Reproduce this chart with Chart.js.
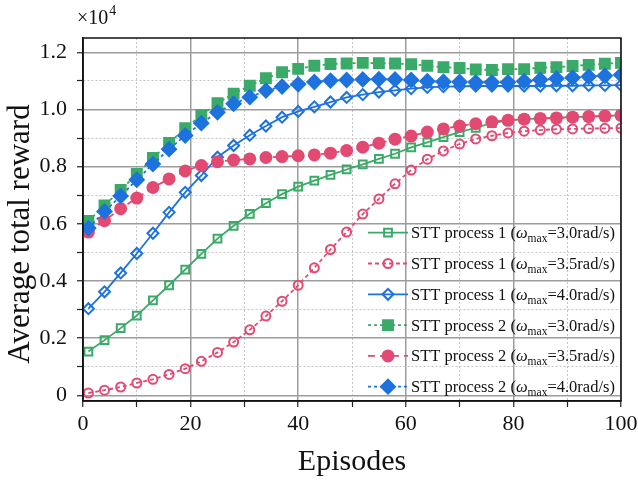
<!DOCTYPE html>
<html>
<head>
<meta charset="utf-8">
<script src="https://cdn.jsdelivr.net/npm/chart.js@4.4.1/dist/chart.umd.min.js"></script>
<style>
  html, body { margin: 0; padding: 0; background: #fff; }
</style>
</head>
<body>
<canvas id="lineChart" width="638" height="487"></canvas>
<script>
// episodes sampled every 3
var episodes = [1, 4, 7, 10, 13, 16, 19, 22, 25, 28, 31, 34, 37, 40, 43, 46, 49, 52, 55, 58, 61, 64, 67, 70, 73, 76, 79, 82, 85, 88, 91, 94, 97, 100];

// average total reward, in units of 10^4
var stt1_w30 = [0.153, 0.193, 0.235, 0.279, 0.332, 0.385, 0.440, 0.495, 0.548, 0.593, 0.635, 0.672, 0.704, 0.730, 0.751, 0.771, 0.790, 0.808, 0.827, 0.845, 0.867, 0.885, 0.903, 0.921, 0.936, 0.952, 0.962, 0.966, 0.969, 0.971, 0.973, 0.975, 0.977, 0.980];
var stt1_w35 = [0.008, 0.018, 0.029, 0.043, 0.056, 0.073, 0.093, 0.119, 0.150, 0.186, 0.229, 0.277, 0.329, 0.385, 0.446, 0.510, 0.571, 0.634, 0.687, 0.740, 0.788, 0.826, 0.855, 0.879, 0.897, 0.908, 0.918, 0.924, 0.928, 0.931, 0.932, 0.933, 0.934, 0.935];
var stt1_w40 = [0.303, 0.362, 0.428, 0.496, 0.567, 0.640, 0.710, 0.769, 0.833, 0.874, 0.910, 0.942, 0.973, 0.993, 1.009, 1.026, 1.042, 1.052, 1.061, 1.067, 1.073, 1.077, 1.080, 1.081, 1.082, 1.082, 1.082, 1.082, 1.082, 1.083, 1.083, 1.084, 1.084, 1.085];
var stt2_w30 = [0.610, 0.664, 0.718, 0.774, 0.830, 0.883, 0.934, 0.980, 1.022, 1.055, 1.083, 1.109, 1.130, 1.142, 1.153, 1.159, 1.161, 1.163, 1.162, 1.161, 1.158, 1.153, 1.148, 1.145, 1.140, 1.138, 1.141, 1.141, 1.146, 1.148, 1.152, 1.156, 1.160, 1.163];
var stt2_w35 = [0.571, 0.611, 0.653, 0.690, 0.727, 0.757, 0.785, 0.804, 0.817, 0.823, 0.827, 0.832, 0.835, 0.838, 0.841, 0.847, 0.856, 0.868, 0.882, 0.896, 0.907, 0.921, 0.932, 0.942, 0.950, 0.957, 0.962, 0.966, 0.968, 0.970, 0.973, 0.975, 0.977, 0.979];
var stt2_w40 = [0.585, 0.643, 0.697, 0.754, 0.809, 0.861, 0.909, 0.952, 0.990, 1.020, 1.043, 1.066, 1.080, 1.088, 1.096, 1.101, 1.103, 1.105, 1.106, 1.105, 1.103, 1.099, 1.097, 1.096, 1.095, 1.095, 1.095, 1.099, 1.104, 1.108, 1.111, 1.115, 1.118, 1.121];

var processNames = ['STT process 1', 'STT process 1', 'STT process 1', 'STT process 2', 'STT process 2', 'STT process 2'];
var omegaMax = ['3.0', '3.5', '4.0', '3.0', '3.5', '4.0'];

var yTicks = [0, 0.1, 0.2, 0.3, 0.4, 0.5, 0.6, 0.7, 0.8, 0.9, 1.0, 1.1, 1.2];
var yMajor = [0, 0.2, 0.4, 0.6, 0.8, 1.0, 1.2];
var xTicks = [0, 10, 20, 30, 40, 50, 60, 70, 80, 90, 100];
var xMajor = [0, 20, 40, 60, 80, 100];

var green = '#3aaa68';
var red = '#e24a73';
var blue = '#1d72de';
var serif = '"Liberation Serif", "Times New Roman", serif';

function pts(vals) {
	return episodes.map(function(e, i) { return {x: e, y: vals[i]}; });
}
function isIn(list, v) {
	return list.some(function(m) { return Math.abs(m - v) < 1e-6; });
}
function gridColor(list) {
	return function(c) { return c.tick && isIn(list, c.tick.value) ? '#9c9c9c' : '#c4c4c4'; };
}
function gridWidth(list) {
	return function(c) { return c.tick && isIn(list, c.tick.value) ? 1.5 : 1; };
}
function gridDash(list) {
	return function(c) { return c.tick && !isIn(list, c.tick.value) ? [2, 2] : []; };
}

var extras = {
	id: 'extras',
	afterDraw: function(chart) {
		var ctx = chart.ctx, a = chart.chartArea;
		ctx.save();
		// frame
		ctx.strokeStyle = '#111';
		ctx.lineWidth = 1.5;
		ctx.strokeRect(a.left, a.top, a.right - a.left, a.bottom - a.top);

		// exponent label
		ctx.fillStyle = '#111';
		ctx.textBaseline = 'alphabetic';
		ctx.textAlign = 'left';
		ctx.font = '20px ' + serif;
		ctx.fillText('\u00d710', 77, 24);
		var w = ctx.measureText('\u00d710').width;
		ctx.font = '14px ' + serif;
		ctx.fillText('4', 77 + w + 1, 15);

		// axis titles
		ctx.font = '30px ' + serif;
		ctx.textAlign = 'center';
		ctx.textBaseline = 'middle';
		ctx.fillText('Episodes', (a.left + a.right) / 2, 462);
		ctx.save();
		ctx.font = '31px ' + serif;
		ctx.translate(21, 234);
		ctx.rotate(-Math.PI / 2);
		ctx.fillText('Average total reward', 0, 0);
		ctx.restore();

		// legend
		var rowH = 30.8;
		var y0 = a.bottom - 14.3 - 5 * rowH;
		var lx0 = a.right - 253, lx1 = a.right - 213, mx = a.right - 233, tx = a.right - 210;
		chart.data.datasets.forEach(function(ds, i) {
			var y = y0 + i * rowH;
			ctx.strokeStyle = ds.borderColor;
			ctx.lineWidth = ds.borderWidth;
			ctx.setLineDash(ds.borderDash);
			ctx.beginPath();
			ctx.moveTo(lx0, y);
			ctx.lineTo(lx1, y);
			ctx.stroke();
			ctx.setLineDash([]);
			ctx.fillStyle = ds.pointBackgroundColor;
			ctx.strokeStyle = ds.pointBorderColor;
			ctx.lineWidth = ds.pointBorderWidth;
			Chart.helpers.drawPoint(ctx, {pointStyle: ds.pointStyle, radius: ds.pointRadius, borderWidth: ds.pointBorderWidth, rotation: 0}, mx, y);

			var bl = y + 5.5, x = tx;
			ctx.fillStyle = '#111';
			ctx.textAlign = 'left';
			ctx.textBaseline = 'alphabetic';
			ctx.font = '16.5px ' + serif;
			var s1 = processNames[i] + ' (';
			ctx.fillText(s1, x, bl); x += ctx.measureText(s1).width;
			ctx.font = 'italic 16.5px ' + serif;
			ctx.fillText('\u03c9', x, bl); x += ctx.measureText('\u03c9').width;
			ctx.font = '11.5px ' + serif;
			ctx.fillText('max', x, bl + 4); x += ctx.measureText('max').width;
			ctx.font = '16.5px ' + serif;
			ctx.fillText('=' + omegaMax[i] + 'rad/s)', x, bl);
		});
		ctx.restore();
	}
};

function lineSet(i, vals, color, dash, style, radius, filled) {
	return {
		label: processNames[i] + ' (\u03c9max=' + omegaMax[i] + 'rad/s)',
		data: pts(vals),
		borderColor: color,
		borderWidth: 1.8,
		borderDash: dash,
		pointStyle: style,
		pointRadius: radius,
		pointBorderWidth: 2,
		pointBorderColor: color,
		pointBackgroundColor: filled ? color : 'rgba(0,0,0,0)',
		pointHoverRadius: radius,
		tension: 0,
		clip: 0,
		order: 5 - i
	};
}

var ctxL = document.getElementById('lineChart').getContext('2d');

var myLineChart = new Chart(ctxL, {
	type: 'line',
	data: {
		datasets: [
			lineSet(0, stt1_w30, green, [], 'rect', 5.5, false),
			lineSet(1, stt1_w35, red, [4, 3], 'circle', 4.5, false),
			lineSet(2, stt1_w40, blue, [], 'rectRot', 5.5, false),
			lineSet(3, stt2_w30, green, [3, 3], 'rect', 7, true),
			lineSet(4, stt2_w35, red, [7, 5], 'circle', 5.5, true),
			lineSet(5, stt2_w40, blue, [3, 3], 'rectRot', 7, true)
		]
	},
	options: {
		responsive: false,
		animation: false,
		layout: { padding: { top: 38, right: 17, left: 0, bottom: 0 } },
		plugins: {
			legend: { display: false },
			tooltip: { enabled: false }
		},
		scales: {
			x: {
				type: 'linear',
				min: 0,
				max: 100,
				afterBuildTicks: function(s) { s.ticks = xTicks.map(function(v) { return {value: v}; }); },
				afterFit: function(s) { s.height = 86; s.paddingLeft = 0; s.paddingRight = 0; },
				ticks: {
					autoSkip: false,
					maxRotation: 0,
					padding: 4,
					color: '#111',
					font: { family: serif, size: 22 },
					callback: function(v) { return isIn(xMajor, v) ? String(v) : ''; }
				},
				grid: { color: gridColor(xMajor), lineWidth: gridWidth(xMajor), tickLength: 6, tickColor: '#222', tickWidth: 1.2 },
				border: { color: '#111', width: 1.5, dash: gridDash(xMajor) }
			},
			y: {
				min: -0.02,
				max: 1.25,
				afterBuildTicks: function(s) { s.ticks = yTicks.map(function(v) { return {value: v}; }); },
				afterFit: function(s) { s.width = 83; s.paddingTop = 0; s.paddingBottom = 0; },
				ticks: {
					autoSkip: false,
					padding: 10,
					color: '#111',
					font: { family: serif, size: 22 },
					callback: function(v) { return isIn(yMajor, v) ? (v === 0 ? '0' : v.toFixed(1)) : ''; }
				},
				grid: { color: gridColor(yMajor), lineWidth: gridWidth(yMajor), tickLength: 6, tickColor: '#222', tickWidth: 1.2 },
				border: { color: '#111', width: 1.5, dash: gridDash(yMajor) }
			}
		}
	},
	plugins: [extras]
});
</script>
</body>
</html>
